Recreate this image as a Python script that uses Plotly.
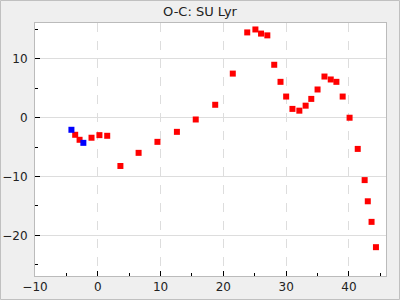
import plotly.graph_objects as go

# Data (cycle number E vs O-C in minutes)
blue_x = [-4.2, -2.3]
blue_y = [-2.05, -4.27]

red_x = [-3.6, -2.9, -1.0, 0.26, 1.5, 3.6, 6.5, 9.5, 12.6, 15.6, 18.7, 21.5,
         23.8, 25.1, 26.0, 27.0, 28.1, 29.1, 30.0, 31.0, 32.1, 33.1, 34.0,
         35.0, 36.1, 37.1, 38.0, 39.0, 40.1, 41.4, 42.5, 43.0, 43.6, 44.3]
red_y = [-2.9, -3.75, -3.4, -2.96, -3.07, -8.2, -5.97, -4.1, -2.4, -0.3, 2.2, 7.5,
         14.5, 15.0, 14.3, 14.0, 9.0, 6.1, 3.6, 1.5, 1.2, 2.05, 3.2,
         4.8, 7.0, 6.5, 6.1, 3.6, 0.0, -5.3, -10.6, -14.2, -17.7, -22.0]

title = "O-C: SU Lyr"
x_range = [-10, 45.9]
y_range = [-26.9, 16.1]

W, H = 400, 300
ml, mr, mt, mb = 35, 14, 23, 24
pw = W - ml - mr
ph = H - mt - mb

fig = go.Figure()
fig.add_trace(go.Scatter(x=red_x, y=red_y, mode="markers",
                         marker=dict(symbol="square", size=6, color="#ff0000", line=dict(width=0)),
                         showlegend=False))
fig.add_trace(go.Scatter(x=blue_x, y=blue_y, mode="markers",
                         marker=dict(symbol="square", size=6, color="#0000ff", line=dict(width=0)),
                         showlegend=False))

axis_common = dict(showline=True, linecolor="#bbbbbb", linewidth=1, mirror=True,
                   ticks="inside", ticklen=5, tickcolor="#000000", tickwidth=1,
                   zeroline=False, gridcolor="#dddddd", gridwidth=1, automargin=False,
                   tickfont=dict(family="DejaVu Sans", size=12, color="#222222"))

fig.update_xaxes(range=x_range, dtick=10, tick0=0, griddash="dash",
                 minor=dict(ticks="inside", ticklen=3, dtick=5, tickcolor="#000000", showgrid=False),
                 **axis_common)
fig.update_yaxes(range=y_range, dtick=10, tick0=0, griddash="solid", ticklabelstandoff=4,
                 minor=dict(ticks="inside", ticklen=3, dtick=5, tickcolor="#000000", showgrid=False),
                 **axis_common)

# outer frame of the figure
fig.add_shape(type="rect", xref="paper", yref="paper",
              x0=(0.5 - ml) / pw, x1=(W - 0.5 - ml) / pw,
              y0=-(mb - 0.5) / ph, y1=1 + (mt - 0.5) / ph,
              line=dict(color="#c0c0c0", width=1), fillcolor="rgba(0,0,0,0)", layer="below")

fig.update_layout(
    width=W, height=H,
    margin=dict(l=ml, r=mr, t=mt, b=mb, pad=0, autoexpand=False),
    paper_bgcolor="#efefef", plot_bgcolor="#ffffff",
    title=dict(text=title, x=0.5, xanchor="center", y=1 - 11 / H, yanchor="middle",
               font=dict(family="DejaVu Sans", size=13, color="#222222")),
)

fig.write_html("out.html")
